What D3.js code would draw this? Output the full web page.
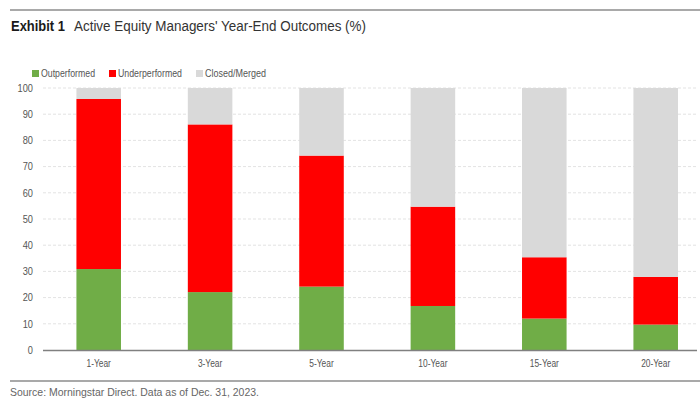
<!DOCTYPE html>
<html>
<head>
<meta charset="utf-8">
<script src="https://cdn.jsdelivr.net/npm/d3@7"></script>
<style>
  body { margin: 0; background: #fff; }
  svg text { font-family: "Liberation Sans", Arial, sans-serif; }
</style>
</head>
<body>
<div id="chart"></div>
<script>

// Chart data.
var categories = ['1-Year', '3-Year', '5-Year', '10-Year', '15-Year', '20-Year'];
var outperformed = [30.9, 22.1, 24.2, 16.8, 12.0, 9.7];
var underperformed = [64.9, 64.0, 50.0, 37.9, 23.4, 18.2];
var closedMerged = [4.2, 13.9, 25.8, 45.3, 64.6, 72.1];
var seriesNames = ['Outperformed', 'Underperformed', 'Closed/Merged'];
var yTicks = [0, 10, 20, 30, 40, 50, 60, 70, 80, 90, 100];

var colors = { Outperformed: '#70ad47', Underperformed: '#ff0000', 'Closed/Merged': '#d9d9d9' };

var width = 700;
var height = 402;

var svg = d3.select('#chart').append('svg')
  .attr('width', width)
  .attr('height', height);

/*
 * Squeeze text horizontally to imitate a condensed face.
 */
function condense(sel, factor) {
  sel.each(function() {
    var w = this.getComputedTextLength();
    d3.select(this)
      .attr('textLength', w * factor)
      .attr('lengthAdjust', 'spacingAndGlyphs');
  });
}

// Build rows for the stack layout.
var rows = categories.map(function(c, i) {
  return {
    category: c,
    Outperformed: outperformed[i],
    Underperformed: underperformed[i],
    'Closed/Merged': closedMerged[i]
  };
});

var stack = d3.stack().keys(seriesNames)(rows);

// Scales.
var x = d3.scaleBand()
  .domain(categories)
  .range([43, 711.4])
  .paddingInner(0.6)
  .paddingOuter(0.3);

var y = d3.scaleLinear()
  .domain([0, 100])
  .range([350, 88]);

var plotLeft = 43;
var plotRight = 697;

// Top and bottom rules.
svg.append('line')
  .attr('x1', 10).attr('x2', 700)
  .attr('y1', 10).attr('y2', 10)
  .attr('stroke', '#8c8c8c').attr('stroke-width', 1.5);

svg.append('line')
  .attr('x1', 10).attr('x2', 700)
  .attr('y1', 381).attr('y2', 381)
  .attr('stroke', '#8c8c8c').attr('stroke-width', 1.5);

// Title.
svg.append('text')
  .attr('x', 11).attr('y', 31)
  .attr('font-size', 15.5)
  .attr('font-weight', 'bold')
  .attr('fill', '#1a1a1a')
  .attr('textLength', 54)
  .attr('lengthAdjust', 'spacingAndGlyphs')
  .text('Exhibit 1');

svg.append('text')
  .attr('x', 74).attr('y', 31)
  .attr('font-size', 15.5)
  .attr('fill', '#333')
  .attr('textLength', 292)
  .attr('lengthAdjust', 'spacingAndGlyphs')
  .text("Active Equity Managers' Year-End Outcomes (%)");

// Legend.
var legendX = [32, 109, 196];
var legendW = [54, 64, 61];
var legend = svg.append('g').selectAll('g')
  .data(seriesNames)
  .enter().append('g')
  .attr('transform', function(d, i) { return 'translate(' + legendX[i] + ',70)'; });

legend.append('rect')
  .attr('width', 7).attr('height', 7)
  .attr('fill', function(d) { return colors[d]; });

legend.append('text')
  .attr('x', 9).attr('y', 7)
  .attr('font-size', 10.5)
  .attr('fill', '#555')
  .attr('textLength', function(d, i) { return legendW[i]; })
  .attr('lengthAdjust', 'spacingAndGlyphs')
  .text(function(d) { return d; });

// Gridlines.
svg.append('g').selectAll('line')
  .data(yTicks.filter(function(t) { return t > 0; }))
  .enter().append('line')
  .attr('x1', plotLeft).attr('x2', plotRight)
  .attr('y1', function(d) { return y(d); })
  .attr('y2', function(d) { return y(d); })
  .attr('stroke', '#e3e3e3')
  .attr('stroke-dasharray', '3,2');

// Y axis labels.
var yAxis = svg.append('g')
  .attr('transform', 'translate(' + plotLeft + ',0)')
  .call(d3.axisLeft(y).tickValues(yTicks).tickSize(0).tickPadding(10));
yAxis.select('.domain').remove();
yAxis.selectAll('text')
  .attr('font-size', 10.5)
  .attr('fill', '#555')
  .call(condense, 0.88);

// Bars.
svg.append('g').selectAll('g')
  .data(stack)
  .enter().append('g')
  .attr('fill', function(d) { return colors[d.key]; })
  .selectAll('rect')
  .data(function(d) { return d; })
  .enter().append('rect')
  .attr('x', function(d) { return x(d.data.category); })
  .attr('width', x.bandwidth())
  .attr('y', function(d) { return y(d[1]); })
  .attr('height', function(d) { return y(d[0]) - y(d[1]); });

// X axis.
var xAxis = svg.append('g')
  .attr('transform', 'translate(0,350)')
  .call(d3.axisBottom(x).tickSize(0).tickPadding(10));
xAxis.select('.domain').remove();
xAxis.selectAll('text')
  .attr('font-size', 10.5)
  .attr('fill', '#555')
  .call(condense, 0.8);

svg.append('line')
  .attr('x1', plotLeft).attr('x2', plotRight)
  .attr('y1', 350.5).attr('y2', 350.5)
  .attr('stroke', '#808080').attr('stroke-width', 1.5);

// Source note.
svg.append('text')
  .attr('x', 10).attr('y', 396)
  .attr('font-size', 11.5)
  .attr('fill', '#666')
  .attr('textLength', 249)
  .attr('lengthAdjust', 'spacingAndGlyphs')
  .text('Source: Morningstar Direct. Data as of Dec. 31, 2023.');

</script>
</body>
</html>
